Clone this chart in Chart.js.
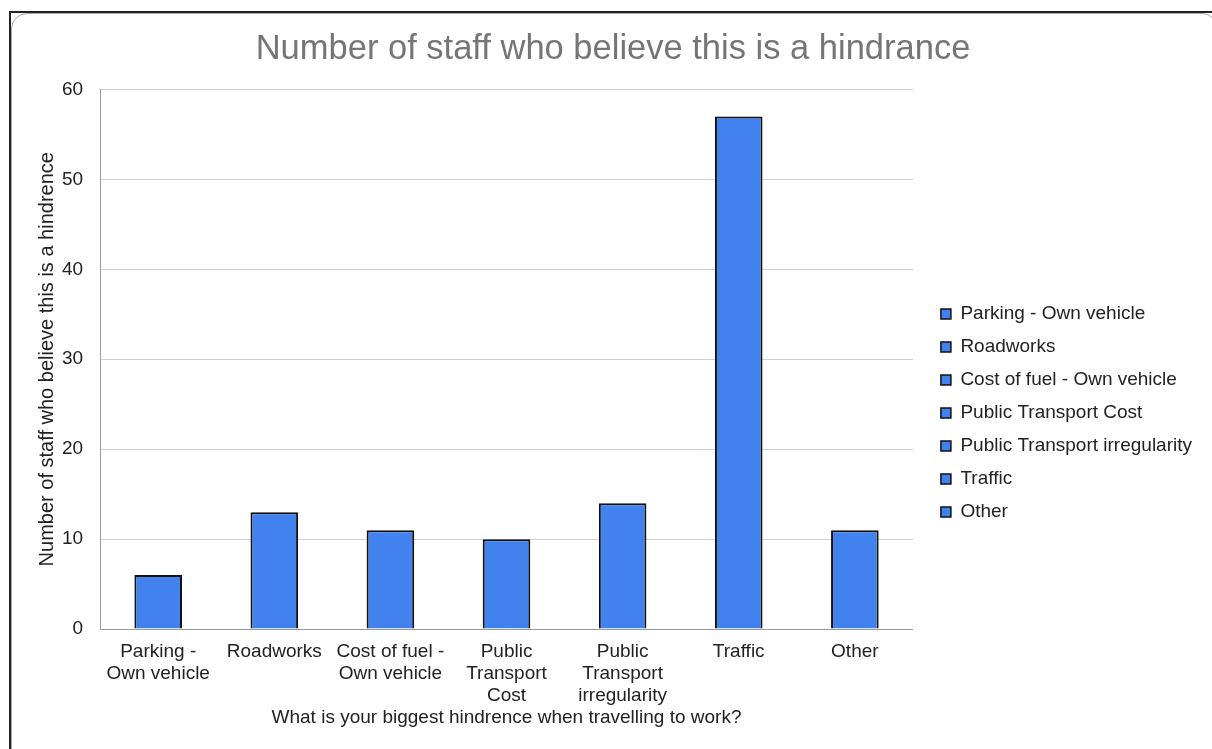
<!DOCTYPE html>
<html>
<head>
<meta charset="utf-8">
<script src="https://cdn.jsdelivr.net/npm/chart.js@4/dist/chart.umd.min.js"></script>
<style>
  html, body { margin: 0; padding: 0; background: #fff; overflow: hidden; }
  #frame {
    position: absolute; left: 9px; top: 11px; width: 1240px; height: 780px;
    border-top: 2px solid #222; border-left: 2px solid #222;
  }
  #inner {
    position: absolute; left: 0; top: 0; width: 1205px; height: 770px;
    border: 1px solid #aaa; border-radius: 16px;
  }
  #wrap { position: absolute; left: 0; top: 0; width: 1212px; height: 749px; }
</style>
</head>
<body>
<div id="frame"><div id="inner"></div></div>
<div id="wrap"><canvas id="hindranceChart"></canvas></div>
<script>
// survey answers: biggest hindrance when travelling to work
const categories = [
  ["Parking -", "Own vehicle"],
  ["Roadworks"],
  ["Cost of fuel -", "Own vehicle"],
  ["Public", "Transport", "Cost"],
  ["Public", "Transport", "irregularity"],
  ["Traffic"],
  ["Other"],
];
const legendNames = [
  "Parking - Own vehicle",
  "Roadworks",
  "Cost of fuel - Own vehicle",
  "Public Transport Cost",
  "Public Transport irregularity",
  "Traffic",
  "Other",
];
const staffCounts = [6, 13, 11, 10, 14, 57, 11];
const yTicks = [0, 10, 20, 30, 40, 50, 60];

const barBlue = "#4282ee";
const textColor = "#222";
const font = "'Liberation Sans', Arial, sans-serif";

const ctx = document.getElementById("hindranceChart").getContext("2d");
new Chart(ctx, {
  type: "bar",
  data: {
    labels: categories,
    datasets: [{
      label: "Number of staff",
      data: staffCounts,
      backgroundColor: barBlue,
      borderColor: "#111",
      borderWidth: 2,
      categoryPercentage: 1,
      barPercentage: 0.41,
    }],
  },
  options: {
    responsive: true,
    maintainAspectRatio: false,
    animation: false,
    layout: { padding: { left: 24, right: 10, top: 20, bottom: 17 } },
    scales: {
      x: {
        grid: { display: false, drawTicks: false },
        border: { color: "#999", width: 1 },
        ticks: {
          color: textColor,
          font: { family: font, size: 19, lineHeight: 1.16 },
          maxRotation: 0,
          padding: 12,
        },
        title: {
          display: true,
          text: "What is your biggest hindrence when travelling to work?",
          color: textColor,
          font: { family: font, size: 19 },
          padding: { top: -13, bottom: 3 },
        },
      },
      y: {
        min: 0,
        max: 60,
        afterBuildTicks: axis => { axis.ticks = yTicks.map(v => ({ value: v })); },
        grid: { color: "#cfcfcf", drawTicks: false },
        border: { color: "#999", width: 1 },
        ticks: { color: textColor, font: { family: font, size: 19 }, padding: 17 },
        title: {
          display: true,
          text: "Number of staff who believe this is a hindrence",
          color: textColor,
          font: { family: font, size: 20 },
          padding: { top: 11, bottom: -14 },
        },
      },
      // empty strip between the plot and the legend
      gap: {
        type: "linear",
        position: "right",
        grid: { display: false },
        border: { display: false },
        ticks: { display: false },
        afterFit: axis => { axis.width = 14; },
      },
    },
    plugins: {
      title: {
        display: true,
        text: "Number of staff who believe this is a hindrance",
        color: "#757575",
        font: { family: font, size: 34.5, weight: "normal" },
        padding: { top: 9, bottom: 19 },
      },
      tooltip: { enabled: false },
      legend: {
        position: "right",
        maxWidth: 320,
        title: { display: true, text: "", font: { size: 10 }, padding: { top: 62, bottom: 0 } },
        labels: {
          color: textColor,
          font: { family: font, size: 19 },
          boxWidth: 10,
          boxHeight: 10,
          padding: 14,
          generateLabels: () => legendNames.map((name, i) => ({
            text: name,
            fillStyle: barBlue,
            strokeStyle: "#111",
            fontColor: textColor,
            lineWidth: 1.5,
            index: i,
          })),
        },
      },
    },
  },
});
</script>
</body>
</html>
